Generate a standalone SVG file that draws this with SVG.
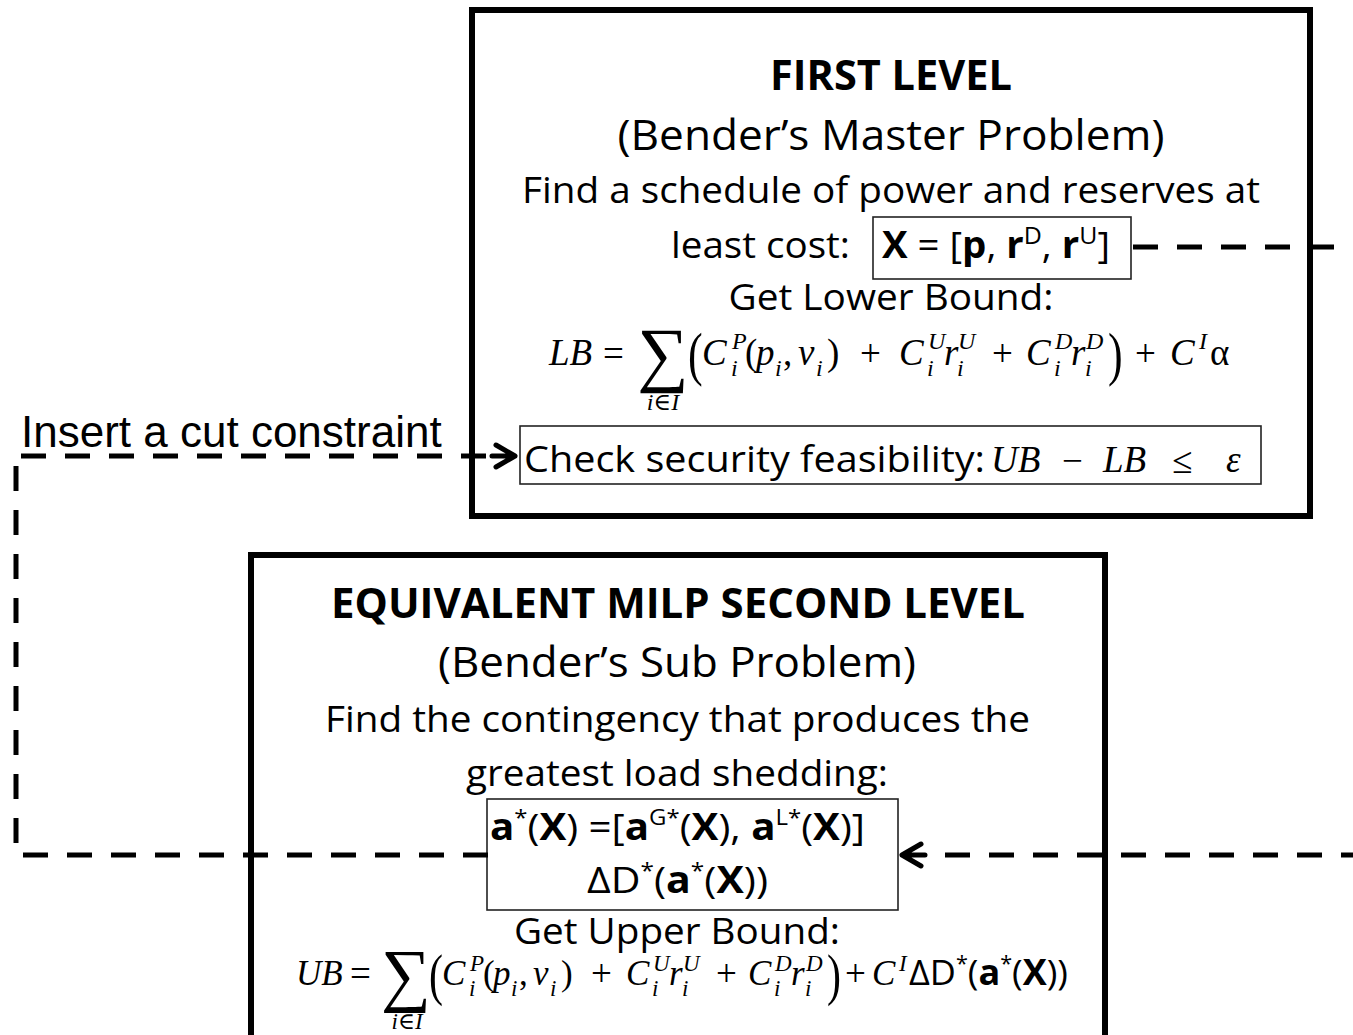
<svg xmlns="http://www.w3.org/2000/svg" width="1353" height="1035" viewBox="0 0 1353 1035">
<style>
.s{font-family:"Open Sans","Liberation Sans",sans-serif;fill:#000}
.b{font-weight:bold}
.m{font-family:"Liberation Serif","DejaVu Serif",serif;font-style:italic;fill:#000;font-size:37px}
.m2{font-size:35px}
.u{font-style:normal}
.sc{font-size:24px}
.sc2{font-size:23px}
.big{font-family:"Liberation Serif","DejaVu Serif",serif;fill:#000}
.frame{fill:#fff;stroke:#000;stroke-width:6}
.inner{fill:none;stroke:#222;stroke-width:1.6}
.dash{fill:none;stroke:#000;stroke-width:5;stroke-dasharray:25 19}
.head{fill:none;stroke:#000;stroke-width:5;stroke-linecap:round;stroke-linejoin:round}
</style>
<rect width="1353" height="1035" fill="#fff"/>

<g id="first-level">
<rect class="frame" x="472" y="10" width="838" height="506"/>
<text class="s b" x="891" y="90" font-size="42" text-anchor="middle" textLength="242" lengthAdjust="spacingAndGlyphs">FIRST LEVEL</text>
<text class="s" x="891" y="150" font-size="42" text-anchor="middle" textLength="547" lengthAdjust="spacingAndGlyphs">(Bender’s Master Problem)</text>
<text class="s" x="891" y="203" font-size="37" text-anchor="middle" textLength="738" lengthAdjust="spacingAndGlyphs">Find a schedule of power and reserves at</text>
<text class="s" x="671" y="258" font-size="37" textLength="179" lengthAdjust="spacingAndGlyphs">least cost:</text>
<g id="x-box">
<rect class="inner" x="873" y="217" width="258" height="62"/>
<text class="s" x="882" y="258" font-size="37" textLength="228" lengthAdjust="spacingAndGlyphs"><tspan class="b">X</tspan> = [<tspan class="b">p</tspan>, <tspan class="b">r</tspan><tspan font-size="24" dy="-14">D</tspan><tspan dy="14">, </tspan><tspan class="b">r</tspan><tspan font-size="24" dy="-14">U</tspan><tspan dy="14">]</tspan></text>
</g>
<text class="s" x="891" y="310" font-size="37" text-anchor="middle" textLength="325" lengthAdjust="spacingAndGlyphs">Get Lower Bound:</text>
<g id="lb-formula">
<text class="m" x="549" y="365">LB</text>
<text class="m u" x="603" y="366" font-size="41">=</text>
<text class="big" x="663" y="378" font-size="72" text-anchor="middle">∑</text>
<text class="m sc" x="663" y="410" text-anchor="middle">i<tspan class="u">∈</tspan>I</text>
<text class="big" transform="translate(688,374) scale(1,1.35)" font-size="44">(</text>
<text class="m" x="702" y="365">C</text>
<text class="m sc" x="732" y="349">P</text>
<text class="m sc" x="731" y="376">i</text>
<text class="m u" x="745" y="365">(</text>
<text class="m" x="756" y="365">p</text>
<text class="m sc" x="775" y="376">i</text>
<text class="m u" x="783" y="365">,</text>
<text class="m" x="798" y="365">v</text>
<text class="m sc" x="816" y="376">i</text>
<text class="m u" x="827" y="365">)</text>
<text class="m u" x="860" y="366" font-size="42">+</text>
<text class="m" x="899" y="365">C</text>
<text class="m sc" x="928" y="349">U</text>
<text class="m sc" x="927" y="376">i</text>
<text class="m" x="944" y="365">r</text>
<text class="m sc" x="958" y="349">U</text>
<text class="m sc" x="957" y="376">i</text>
<text class="m u" x="992" y="366" font-size="42">+</text>
<text class="m" x="1026" y="365">C</text>
<text class="m sc" x="1055" y="349">D</text>
<text class="m sc" x="1054" y="376">i</text>
<text class="m" x="1071" y="365">r</text>
<text class="m sc" x="1086" y="349">D</text>
<text class="m sc" x="1085" y="376">i</text>
<text class="big" transform="translate(1108,374) scale(1,1.35)" font-size="44">)</text>
<text class="m u" x="1135" y="366" font-size="42">+</text>
<text class="m" x="1170" y="365">C</text>
<text class="m sc" x="1199" y="349">I</text>
<text class="m u" x="1210" y="365">α</text>
</g>
<g id="check-box">
<rect class="inner" x="520" y="426" width="741" height="58"/>
<text class="s" x="524" y="472" font-size="37" textLength="461" lengthAdjust="spacingAndGlyphs">Check security feasibility:</text>
<text class="m" x="991" y="472" font-size="38">UB</text>
<text class="m u" x="1062" y="473" font-size="46">−</text>
<text class="m" x="1103" y="472" font-size="38">LB</text>
<text class="m u" x="1172" y="473" font-size="46">≤</text>
<text class="m" x="1226" y="472" font-size="38">ε</text>
</g>
</g>

<g id="second-level">
<rect class="frame" x="251" y="555" width="854" height="500"/>
<text class="s b" x="678" y="618" font-size="42" text-anchor="middle" textLength="694" lengthAdjust="spacingAndGlyphs">EQUIVALENT MILP SECOND LEVEL</text>
<text class="s" x="677" y="677" font-size="42" text-anchor="middle" textLength="478" lengthAdjust="spacingAndGlyphs">(Bender’s Sub Problem)</text>
<text class="s" x="677.5" y="732" font-size="37" text-anchor="middle" textLength="705" lengthAdjust="spacingAndGlyphs">Find the contingency that produces the</text>
<text class="s" x="677" y="786" font-size="37" text-anchor="middle" textLength="422" lengthAdjust="spacingAndGlyphs">greatest load shedding:</text>
<g id="a-box">
<rect class="inner" x="487" y="799" width="411" height="111"/>
<text class="s" x="490" y="840" font-size="37" textLength="375" lengthAdjust="spacingAndGlyphs"><tspan class="b">a</tspan><tspan font-size="22" dy="-15">*</tspan><tspan dy="15">(</tspan><tspan class="b">X</tspan>) =[<tspan class="b">a</tspan><tspan font-size="22" dy="-15">G*</tspan><tspan dy="15">(</tspan><tspan class="b">X</tspan>), <tspan class="b">a</tspan><tspan font-size="22" dy="-15">L*</tspan><tspan dy="15">(</tspan><tspan class="b">X</tspan>)]</text>
<text class="s" x="587" y="893" font-size="37" textLength="181" lengthAdjust="spacingAndGlyphs">ΔD<tspan font-size="22" dy="-15">*</tspan><tspan dy="15">(</tspan><tspan class="b">a</tspan><tspan font-size="22" dy="-15">*</tspan><tspan dy="15">(</tspan><tspan class="b">X</tspan>))</text>
</g>
<text class="s" x="677" y="944" font-size="37" text-anchor="middle" textLength="326" lengthAdjust="spacingAndGlyphs">Get Upper Bound:</text>
<g id="ub-formula">
<text class="m m2" x="296" y="985">UB</text>
<text class="m u" x="350" y="986" font-size="40">=</text>
<text class="big" x="406" y="998" font-size="70" text-anchor="middle">∑</text>
<text class="m sc2" x="407" y="1029" text-anchor="middle">i<tspan class="u">∈</tspan>I</text>
<text class="big" transform="translate(429,994) scale(1,1.35)" font-size="42">(</text>
<text class="m m2" x="442" y="985">C</text>
<text class="m sc2" x="470" y="971">P</text>
<text class="m sc2" x="469" y="996">i</text>
<text class="m m2 u" x="483" y="985">(</text>
<text class="m m2" x="493" y="985">p</text>
<text class="m sc2" x="511" y="996">i</text>
<text class="m m2 u" x="519" y="985">,</text>
<text class="m m2" x="533" y="985">v</text>
<text class="m sc2" x="550" y="996">i</text>
<text class="m m2 u" x="561" y="985">)</text>
<text class="m u" x="591" y="986" font-size="40">+</text>
<text class="m m2" x="626" y="985">C</text>
<text class="m sc2" x="653" y="971">U</text>
<text class="m sc2" x="652" y="996">i</text>
<text class="m m2" x="669" y="985">r</text>
<text class="m sc2" x="683" y="971">U</text>
<text class="m sc2" x="682" y="996">i</text>
<text class="m u" x="716" y="986" font-size="40">+</text>
<text class="m m2" x="748" y="985">C</text>
<text class="m sc2" x="775" y="971">D</text>
<text class="m sc2" x="774" y="996">i</text>
<text class="m m2" x="791" y="985">r</text>
<text class="m sc2" x="806" y="971">D</text>
<text class="m sc2" x="805" y="996">i</text>
<text class="big" transform="translate(827,994) scale(1,1.35)" font-size="42">)</text>
<text class="m u" x="845" y="986" font-size="40">+</text>
<text class="m m2" x="872" y="985">C</text>
<text class="m sc2" x="899" y="971">I</text>
<text class="s" x="909" y="985" font-size="35" textLength="159" lengthAdjust="spacingAndGlyphs">ΔD<tspan font-size="21" dy="-14">*</tspan><tspan dy="14">(</tspan><tspan class="b">a</tspan><tspan font-size="21" dy="-14">*</tspan><tspan dy="14">(</tspan><tspan class="b">X</tspan>))</text>
</g>
</g>

<g id="cut-label">
<text x="21" y="447" font-family="Liberation Sans, Arial, sans-serif" font-size="44">Insert a cut constraint</text>
</g>

<g id="connectors">
<line class="dash" x1="1133" y1="247" x2="1353" y2="247"/>
<line class="dash" x1="945" y1="855" x2="1353" y2="855"/>
<path class="head" d="M921,844 L902,855 L921,866 M902,855 L925,855"/>
<line class="dash" x1="23" y1="855" x2="488" y2="855"/>
<line class="dash" x1="16" y1="466" x2="16" y2="843"/>
<line class="dash" x1="21" y1="456" x2="487" y2="456"/>
<path class="head" d="M496,445 L515,456 L496,467 M492,456 L515,456"/>
</g>
</svg>
